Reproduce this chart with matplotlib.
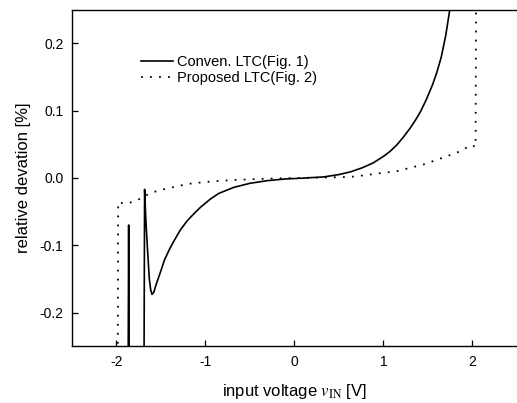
import matplotlib
matplotlib.use("Agg")
import matplotlib.pyplot as plt

plt.rcParams['font.family'] = ['Liberation Sans', 'DejaVu Sans']
plt.rcParams['mathtext.fontset'] = 'stix'

# conventional LTC (Fig. 1)
conv_x = [-1.868, -1.862, -1.856, -1.690, -1.683, -1.67, -1.65, -1.63, -1.615, -1.60,
          -1.58, -1.55, -1.50, -1.46, -1.40, -1.35, -1.28, -1.20, -1.12, -1.05,
          -0.94, -0.85, -0.68, -0.50, -0.30, -0.10, 0.07, 0.33, 0.50, 0.63,
          0.76, 0.88, 1.00, 1.07, 1.15, 1.22, 1.30, 1.36, 1.41, 1.48,
          1.55, 1.60, 1.65, 1.70, 1.745]
conv_y = [-0.30, -0.070, -0.30, -0.30, -0.017, -0.060, -0.107, -0.150, -0.166, -0.173,
          -0.170, -0.157, -0.138, -0.122, -0.105, -0.093, -0.077, -0.063, -0.052, -0.043,
          -0.031, -0.023, -0.014, -0.008, -0.004, -0.0015, -0.0005, 0.0015, 0.005, 0.009,
          0.015, 0.022, 0.032, 0.039, 0.049, 0.060, 0.074, 0.086, 0.097, 0.116,
          0.138, 0.157, 0.180, 0.212, 0.25]

# proposed LTC (Fig. 2)
prop_x = [-1.985, -1.98, -1.92, -1.855, -1.765, -1.61, -1.44, -1.20, -1.00, -0.85,
          -0.68, -0.30, 0.07, 0.30, 0.63, 0.85, 0.96, 1.15, 1.30, 1.45,
          1.60, 1.75, 1.85, 1.99, 2.035, 2.04]
prop_y = [-0.30, -0.036, -0.038, -0.037, -0.033, -0.022, -0.016, -0.009, -0.006, -0.0045,
          -0.003, -0.001, 0.0, 0.0005, 0.0015, 0.005, 0.007, 0.010, 0.015, 0.020,
          0.027, 0.034, 0.039, 0.049, 0.046, 0.30]

xticks = [-2, -1, 0, 1, 2]
yticks = [-0.2, -0.1, 0.0, 0.1, 0.2]

fig = plt.figure(figsize=(5.17, 4.03), dpi=100)
ax = fig.add_axes([0.139, 0.141, 0.861, 0.835])

ax.plot(conv_x, conv_y, color='black', lw=1.2, label='Conven. LTC(Fig. 1)')
ax.plot(prop_x, prop_y, color='black', lw=1.3, linestyle=(0, (1, 4)),
        label='Proposed LTC(Fig. 2)')

ax.set_xlim(-2.5, 2.5)
ax.set_ylim(-0.25, 0.25)
ax.set_xticks(xticks)
ax.set_xticklabels([str(t) for t in xticks])
ax.set_yticks(yticks)
ax.set_yticklabels(['%.1f' % t for t in yticks])
ax.tick_params(direction='in', length=4, width=0.9, labelsize=10, pad=6)
ax.spines['right'].set_visible(False)
for s in ['left', 'bottom', 'top']:
    ax.spines[s].set_linewidth(1.0)

ax.set_xlabel(r'input voltage $\mathit{v}_{\mathrm{IN}}$ [V]', fontsize=12, labelpad=10)
ax.set_ylabel('relative devation [%]', fontsize=12, labelpad=6)

ax.legend(loc='upper left', bbox_to_anchor=(0.125, 0.905), frameon=False,
          fontsize=10.5, handlelength=2.2, handletextpad=0.3, labelspacing=0.15)

fig.savefig('out.png', dpi=100)
